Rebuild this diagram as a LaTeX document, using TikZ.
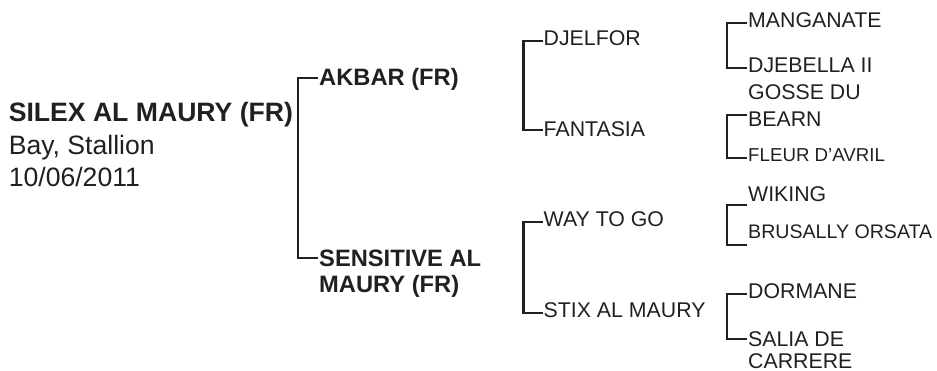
\documentclass[tikz,border=0pt]{standalone}
\usepackage{fontspec}
\setmainfont{Liberation Sans}
\usepackage{tikz}
\usetikzlibrary{calc}
\definecolor{ink}{HTML}{231F20}

\tikzset{
  horse/.style={anchor=base west, inner sep=0pt, text=ink},
  horsetwo/.style={anchor=north west, inner sep=0pt, text=ink, align=left},
  bracket/.style={draw=ink, line width=2.3pt},
  fsire/.style={font=\fontsize{23.7}{26.7}\selectfont\bfseries},
  fgen/.style={font=\fontsize{21.3}{27}\selectfont},
}

\begin{document}
\begin{tikzpicture}[x=1pt,y=-1pt]
  \useasboundingbox (0,0) rectangle (937,371);
  % subject
  \node [horsetwo, font=\fontsize{26.6}{32.5}\selectfont] (silex) at (8.6,102.5)
    {\textbf{SILEX AL MAURY (FR)}\\Bay, Stallion\\10/06/2011};
  % parents
  \node [horse, fsire] (akbar) at (319,86) {AKBAR (FR)};
  \node [horsetwo, fsire] (sensitive) at (319,249.5) {SENSITIVE AL\\MAURY (FR)};
  % grandparents
  \node [horse, fgen] (djelfor) at (543.5,46) {DJELFOR};
  \node [horse, fgen] (fantasia) at (543.5,136.7) {FANTASIA};
  \node [horse, fgen] (waytogo) at (543.5,226.7) {WAY TO GO};
  \node [horse, fgen] (stix) at (543.5,318) {STIX AL MAURY};
  % great grandparents
  \node [horse, fgen] (manganate) at (748,28) {MANGANATE};
  \node [horse, fgen] (djebella) at (748,73) {DJEBELLA II};
  \node [horsetwo, fgen] (gosse) at (748,84.7) {GOSSE DU\\BEARN};
  \node [horse, font=\fontsize{18.7}{22}\selectfont] (fleur) at (748,162) {FLEUR D'AVRIL};
  \node [horse, fgen] (wiking) at (748,202) {WIKING};
  \node [horse, font=\fontsize{19.6}{24}\selectfont] (brusally) at (748,239) {BRUSALLY ORSATA};
  \node [horse, fgen] (dormane) at (748,299) {DORMANE};
  \node [horsetwo, font=\fontsize{21.3}{21.5}\selectfont] (salia) at (748,331.5) {SALIA DE\\CARRERE};

  \draw [bracket] ($(akbar.base west)+(-1,-8)$) -- ++(-20,0)
    |- ($(sensitive.north west)+(-1,8.5)$);
  \draw [bracket] ($(djelfor.base west)+(-0.5,-5.3)$) -- ++(-19.5,0)
    |- ($(fantasia.base west)+(-0.5,-6.7)$);
  \draw [bracket] ($(waytogo.base west)+(-0.5,-4.4)$) -- ++(-19.5,0)
    |- ($(stix.base west)+(-0.5,-5.3)$);
  \draw [bracket] ($(manganate.base west)+(-1,-5)$) -- ++(-20,0)
    |- ($(djebella.base west)+(-1,-5)$);
  \draw [bracket] ($(gosse.north west)+(-1,30.3)$) -- ++(-20,0)
    |- ($(fleur.base west)+(-1,-4)$);
  \draw [bracket] ($(wiking.base west)+(-1,3)$) -- ++(-20,0)
    |- ($(brusally.base west)+(-1,6)$);
  \draw [bracket] ($(dormane.base west)+(-1,-5)$) -- ++(-20,0)
    |- ($(salia.north west)+(-1,7.5)$);
\end{tikzpicture}
\end{document}
